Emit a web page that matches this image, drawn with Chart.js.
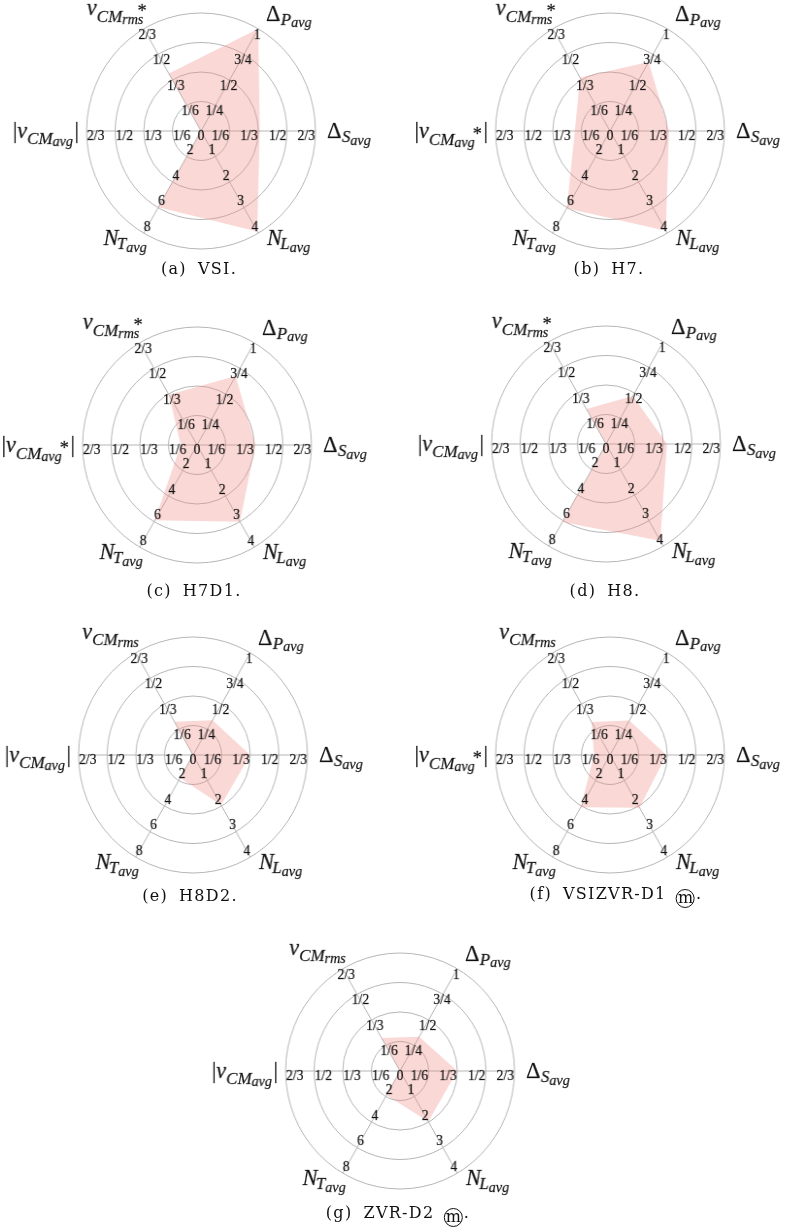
<!DOCTYPE html>
<html>
<head>
<meta charset="utf-8">
<script src="https://cdn.jsdelivr.net/npm/chart.js@4.4.1/dist/chart.umd.min.js"></script>
<style>
  html, body { margin: 0; padding: 0; background: #fff; }
  body { width: 786px; height: 1231px; position: relative; overflow: hidden; }
  .panel { position: absolute; width: 420px; height: 300px; transform: scaleX(0.97); transform-origin: 210px 140px; }
  .panel canvas { display: block; }
  .cap { position: absolute; font-family: "DejaVu Serif", serif; font-size: 16px; color: #111; letter-spacing: 1.3px;
         white-space: nowrap; transform: translate(-50%, -50%); line-height: 20px; }
  .cap .gap { display: inline-block; width: 11px; }
  .circ { display: inline-block; border: 1px solid #111; border-radius: 50%; width: 19px; height: 19px; letter-spacing: 0;
          line-height: 15px; text-align: center; box-sizing: border-box; vertical-align: -4px; margin-left: 3px; margin-right: 1px; }
  .warm { position: absolute; left: -999px; top: 0; font-family: "Liberation Serif"; }
</style>
</head>
<body>
<div class="warm">0 <i>v</i></div>
<script>
// Spokes, clockwise from the upper-right one: ΔP, ΔS, N_L, N_T, |v_CM,avg|, v_CM,rms
const axisMax = [1, 2 / 3, 4, 8, 2 / 3, 2 / 3];

// Tick labels written along each spoke (one per ring)
const ticksDeltaP = ['1/4', '1/2', '3/4', '1'];
const ticksDeltaS = ['1/6', '1/3', '1/2', '2/3'];
const ticksNL     = ['1', '2', '3', '4'];
const ticksNT     = ['2', '4', '6', '8'];
const ticksVavg   = ['1/6', '1/3', '1/2', '2/3'];
const ticksVrms   = ['1/6', '1/3', '1/2', '2/3'];
const axisTicks = [ticksDeltaP, ticksDeltaS, ticksNL, ticksNT, ticksVavg, ticksVrms];

// Measured averages per controller, in axis units
const valuesVSI      = [1.00,  0.342, 3.93, 5.96, 0.000, 0.375];
const valuesH7       = [0.675, 0.343, 3.90, 6.04, 0.205, 0.349];
const valuesH7D1     = [0.675, 0.340, 3.00, 5.90, 0.095, 0.328];
const valuesH8       = [0.470, 0.355, 3.79, 6.10, 0.000, 0.228];
const valuesH8D2     = [0.340, 0.333, 1.96, 1.80, 0.000, 0.217];
const valuesVSIZVRD1 = [0.337, 0.328, 2.06, 4.10, 0.093, 0.216];
const valuesZVRD2    = [0.335, 0.333, 1.98, 1.90, 0.000, 0.215];

const panels = [
  { values: valuesVSI,      cap: ['(a)', 'VSI.'],      m: false, starAvg: false, starRms: true,  cx: 201, cy: 131,  capX: 199, capY: 269 },
  { values: valuesH7,       cap: ['(b)', 'H7.'],       m: false, starAvg: true,  starRms: true,  cx: 610, cy: 131,  capX: 609, capY: 269 },
  { values: valuesH7D1,     cap: ['(c)', 'H7D1.'],     m: false, starAvg: true,  starRms: true,  cx: 197, cy: 445,  capX: 194, capY: 591 },
  { values: valuesH8,       cap: ['(d)', 'H8.'],       m: false, starAvg: false, starRms: true,  cx: 606, cy: 444,  capX: 605, capY: 591 },
  { values: valuesH8D2,     cap: ['(e)', 'H8D2.'],     m: false, starAvg: false, starRms: false, cx: 193, cy: 755,  capX: 190, capY: 896 },
  { values: valuesVSIZVRD1, cap: ['(f)', 'VSIZVR-D1'], m: true,  starAvg: true,  starRms: false, cx: 610, cy: 755,  capX: 616, capY: 896 },
  { values: valuesZVRD2,    cap: ['(g)', 'ZVR-D2'],    m: true,  starAvg: false, starRms: false, cx: 400, cy: 1071, capX: 398, capY: 1215 }
];

const SERIF = '"Liberation Serif"';
const SIZE  = { main: 23, sub: 17.5, subsub: 14.5, star: 19 };
const TICK_SIZE = 14;

function seg(t, k, italic, dy, kern) { return { t, k, italic, dy: dy || 0, kern: kern || 0 }; }

function titleSegments(axis, p) {
  switch (axis) {
    case 0: return [seg('Δ', 'main', false), seg('P', 'sub', true, 4, 0.5), seg('avg', 'subsub', true, 6.5)];
    case 1: return [seg('Δ', 'main', false), seg('S', 'sub', true, 4, 0.5), seg('avg', 'subsub', true, 6.5)];
    case 2: return [seg('N', 'main', true), seg('L', 'sub', true, 4, -1.5), seg('avg', 'subsub', true, 6.5)];
    case 3: return [seg('N', 'main', true), seg('T', 'sub', true, 4, -1.5), seg('avg', 'subsub', true, 6.5)];
    case 4: {
      const drop = p.starAvg ? 6.5 : 5.5;
      const s = [seg('|', 'main', false), seg('v', 'main', true), seg('CM', 'sub', true, drop), seg('avg', 'subsub', true, drop + 2.5)];
      if (p.starAvg) s.push(seg('*', 'star', false, 2, -2));
      s.push(seg('|', 'main', false, 0, 1.5));
      return s;
    }
    default: {
      const drop = p.starRms ? 7 : 6;
      const s = [seg('v', 'main', true), seg('CM', 'sub', true, drop), seg('rms', 'subsub', true, drop + 2.5)];
      if (p.starRms) s.push(seg('*', 'star', false, 2, -6));
      return s;
    }
  }
}

function fontOf(s) { return (s.italic ? 'italic ' : '') + SIZE[s.k] + 'px ' + SERIF; }

function drawRich(ctx, segs, x, y, align) {
  const widths = segs.map(s => { ctx.font = fontOf(s); return ctx.measureText(s.t).width; });
  const total = segs.reduce((a, s, i) => a + widths[i] + s.kern, 0);
  let px = align === 'right' ? x - total : x;
  ctx.textAlign = 'left';
  ctx.textBaseline = 'alphabetic';
  segs.forEach((s, i) => {
    px += s.kern;
    ctx.font = fontOf(s);
    ctx.fillText(s.t, px, y + s.dy);
    ctx.strokeText(s.t, px, y + s.dy);
    px += widths[i];
  });
}

// Where each spoke title sits relative to the end of its spoke
const titlePlacement = [
  { dx: 8,  dy: -8,  align: 'left'  },
  { dx: 12, dy: 7,   align: 'left'  },
  { dx: 9,  dy: 12,  align: 'left'  },
  { dx: 3,  dy: 12,  align: 'right' },
  { dx: -8, dy: 7,   align: 'right' },
  { dx: 3,  dy: -14, align: 'right' }
];

function makeLabelPlugin(p) {
  return {
    id: 'spokeText',
    afterDatasetsDraw(chart) {
      const scale = chart.scales.r;
      const ctx = chart.ctx;
      const R = scale.drawingArea;
      ctx.save();
      ctx.fillStyle = '#111';
      ctx.strokeStyle = 'rgba(17,17,17,0.55)';
      ctx.lineWidth = 0.35;
      // ring values along every spoke
      ctx.font = TICK_SIZE + 'px ' + SERIF;
      ctx.textAlign = 'center';
      ctx.textBaseline = 'middle';
      const put = (txt, x, y) => { ctx.fillText(txt, x, y); ctx.strokeText(txt, x, y); };
      axisTicks.forEach((labels, i) => {
        const horizontal = (i === 1 || i === 4);
        labels.forEach((lab, k) => {
          const inset = horizontal ? 9.5 : 7;
          const pos = scale.getPointPositionForValue(i, ((k + 1) * R / 4 - inset) / R);
          let x = pos.x, y = pos.y;
          if (horizontal) y += 5.5;
          if (i === 0) x += 2.5;
          put(lab, x, y);
        });
      });
      put('0', scale.xCenter, scale.yCenter + 5.5);
      // spoke titles
      for (let i = 0; i < 6; i++) {
        const end = scale.getPointPositionForValue(i, 1);
        const pl = titlePlacement[i];
        drawRich(ctx, titleSegments(i, p), end.x + pl.dx, end.y + pl.dy, pl.align);
      }
      ctx.restore();
    }
  };
}

const gridGrey = '#b5b5b5';
const spokeLabels = ['ΔP_avg', 'ΔS_avg', 'N_L_avg', 'N_T_avg', '|v_CM_avg|', 'v_CM_rms'];

function build() {
  panels.forEach(p => {
    const wrap = document.createElement('div');
    wrap.className = 'panel';
    wrap.style.left = (p.cx - 210) + 'px';
    wrap.style.top = (p.cy - 140) + 'px';
    const canvas = document.createElement('canvas');
    canvas.width = 420;
    canvas.height = 300;
    wrap.appendChild(canvas);
    document.body.appendChild(wrap);

    new Chart(canvas, {
      type: 'radar',
      data: {
        labels: spokeLabels,
        datasets: [{
          data: p.values.map((v, i) => v / axisMax[i]),
          backgroundColor: 'rgba(236, 138, 126, 0.33)',
          borderWidth: 0,
          pointRadius: 0,
          fill: true,
          tension: 0
        }]
      },
      options: {
        responsive: false,
        devicePixelRatio: 1,
        animation: false,
        layout: { padding: { left: 92, right: 92, top: 22, bottom: 42 } },
        plugins: { legend: { display: false }, tooltip: { enabled: false } },
        scales: {
          r: {
            min: 0,
            max: 1,
            startAngle: 30,
            ticks: { display: false, stepSize: 0.25 },
            grid: { circular: true, color: gridGrey, lineWidth: 1 },
            angleLines: { display: true, color: gridGrey, lineWidth: 1 },
            pointLabels: { display: false }
          }
        }
      },
      plugins: [makeLabelPlugin(p)]
    });

    const cap = document.createElement('div');
    cap.className = 'cap';
    cap.style.left = p.capX + 'px';
    cap.style.top = p.capY + 'px';
    let html = p.cap[0] + '<span class="gap"></span>' + p.cap[1];
    if (p.m) html += ' <span class="circ">m</span>.';
    cap.innerHTML = html;
    document.body.appendChild(cap);
  });
}

Promise.all([
  document.fonts.load('13px "Liberation Serif"'),
  document.fonts.load('italic 21px "Liberation Serif"')
]).catch(() => {}).then(build);
</script>
</body>
</html>
